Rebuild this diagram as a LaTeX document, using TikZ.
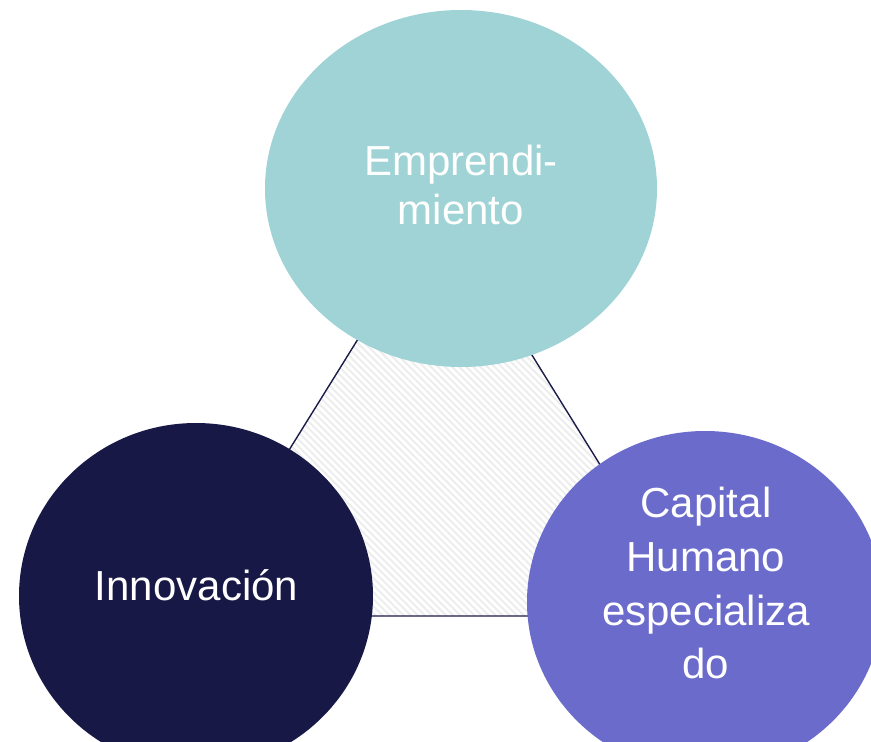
\documentclass[tikz,border=0pt]{standalone}
\usepackage{fontspec}
\setmainfont{Liberation Sans}
\usetikzlibrary{shapes.geometric,patterns.meta}
\definecolor{cteal}{HTML}{9FD3D6}
\definecolor{cnavy}{HTML}{181846}
\definecolor{cviolet}{HTML}{6B6BCC}
\definecolor{cline}{HTML}{1C1C4A}
\tikzset{
  blob/.style={ellipse, inner sep=0pt, draw=none},
  lbl/.style={text=white, anchor=base, inner sep=0pt, font=\fontsize{42}{54}\selectfont},
  tri/.style={draw=cline, line width=1.4pt, pattern={Lines[angle=-45,distance=5pt,line width=2pt]}, pattern color=gray!14},
}
\begin{document}
\begin{tikzpicture}[x=1pt,y=-1pt]
\useasboundingbox (0,0) rectangle (871,742);
\clip (0,0) rectangle (871,742);
\coordinate (A) at (186,616);
\coordinate (B) at (694,616);
\coordinate (C) at (440,207);
\draw[tri] (A) -- (C) -- (B) -- cycle;
\node[blob, fill=cteal, minimum width=392pt, minimum height=357pt] (emp) at (461,188.5) {};
\node[blob, fill=cnavy, minimum width=354pt, minimum height=346pt] (inn) at (196,596) {};
\node[blob, fill=cviolet, minimum width=356pt, minimum height=342pt] (cap) at (705,602) {};
\node[lbl] (t1) at (461,175) {Emprendi-};
\node[lbl] (t2) at (461,224) {miento};
\node[lbl] (t3) at (196.5,600) {Innovación};
\node[lbl] (t4) at (706,517) {Capital};
\node[lbl] (t5) at (706,571) {Humano};
\node[lbl] (t6) at (706,625) {especializa};
\node[lbl] (t7) at (706,678) {do};
\end{tikzpicture}
\end{document}
